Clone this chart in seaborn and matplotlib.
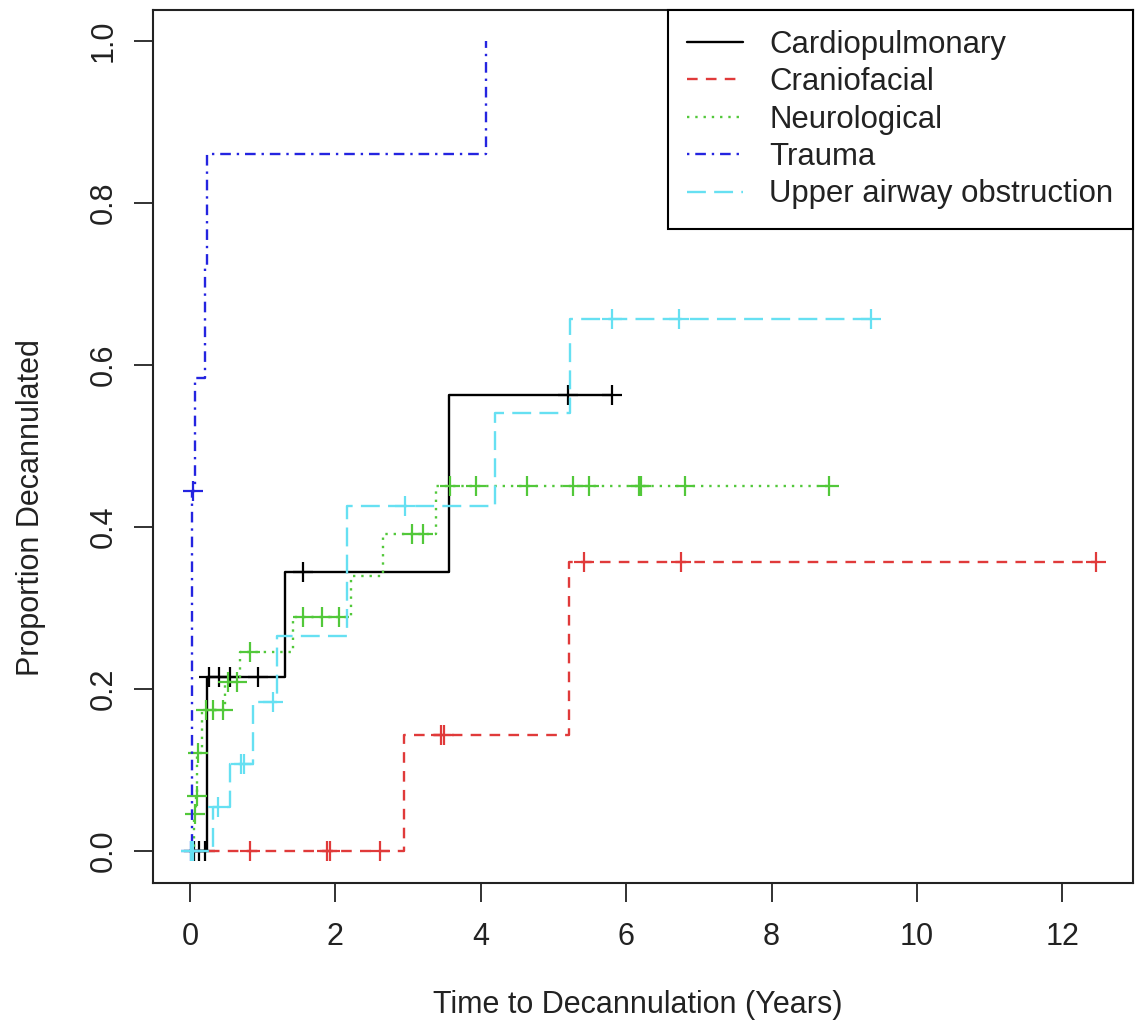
import numpy as np
import matplotlib
matplotlib.use('Agg')
from matplotlib import pyplot as plt
from matplotlib.lines import Line2D
import pandas as pd
import seaborn as sns

# groups, legend order
groups = ['Cardiopulmonary', 'Craniofacial', 'Neurological', 'Trauma',
          'Upper airway obstruction']

# event times (years) and cumulative proportion decannulated after each event
cardio_t = [0.23, 1.31, 3.56]
cardio_y = [0.215, 0.345, 0.563]
cardio_cens = [0.05, 0.12, 0.20, 0.26, 0.40, 0.55, 0.94, 1.55, 5.20, 5.81]

cranio_t = [2.94, 5.21]
cranio_y = [0.143, 0.357]
cranio_cens = [0.83, 1.88, 1.93, 2.61, 3.45, 3.49, 5.42, 6.76, 12.46]

neuro_t = [0.06, 0.08, 0.10, 0.17, 0.48, 0.69, 1.42, 2.21, 2.66, 3.38]
neuro_y = [0.046, 0.068, 0.121, 0.174, 0.209, 0.246, 0.289, 0.339, 0.392, 0.451]
neuro_cens = [0.07, 0.09, 0.11, 0.22, 0.32, 0.45, 0.52, 0.65, 0.83, 1.55,
              1.82, 2.05, 3.05, 3.20, 3.58, 3.94, 4.63, 5.27, 5.49, 6.17,
              6.21, 6.81, 8.79]

trauma_t = [0.03, 0.07, 0.20, 0.23, 4.07]
trauma_y = [0.444, 0.584, 0.722, 0.861, 1.0]
trauma_cens = [0.01, 0.04]

upper_t = [0.32, 0.55, 0.87, 1.20, 2.16, 4.20, 5.23]
upper_y = [0.054, 0.108, 0.184, 0.265, 0.426, 0.541, 0.657]
upper_cens = [0.01, 0.04, 0.39, 0.70, 0.74, 1.14, 2.96, 5.80, 6.73, 9.37]

colors = ['black', '#E03A3A', '#52C83A', '#2424E0', '#66E0F2']
dash_styles = ['-', (0, (4.5, 3.5)), (0, (1, 2.5)), (0, (1, 2.5, 4.5, 2.5)),
               (0, (8, 3.5))]

sns.set_theme(style='white')
plt.rcParams['font.family'] = ['Liberation Sans', 'DejaVu Sans']
plt.rcParams['text.color'] = '#222222'
plt.rcParams['axes.labelcolor'] = '#222222'
plt.rcParams['xtick.color'] = '#222222'
plt.rcParams['ytick.color'] = '#222222'

fig = plt.figure(figsize=(11.35, 10.31), dpi=100)
ax = fig.add_axes([0.1348, 0.1435, 0.8632, 0.8465])

series = [(cardio_t, cardio_y, cardio_cens),
          (cranio_t, cranio_y, cranio_cens),
          (neuro_t, neuro_y, neuro_cens),
          (trauma_t, trauma_y, trauma_cens),
          (upper_t, upper_y, upper_cens)]

handles = []
for name, (ts, ys, cens), col, ls in zip(groups, series, colors, dash_styles):
    t_end = max(max(ts), max(cens))
    curve = pd.DataFrame({'time': [0.0] + list(ts) + [t_end],
                          'prop': [0.0] + list(ys) + [ys[-1]]})
    sns.lineplot(data=curve, x='time', y='prop', ax=ax, color=col,
                 linestyle=ls, linewidth=1.7, drawstyle='steps-post',
                 estimator=None, sort=False)
    # censoring ticks sit on the step curve
    idx = np.searchsorted(ts, cens, side='right') - 1
    cy = np.where(idx >= 0, np.array(ys)[np.clip(idx, 0, None)], 0.0)
    ax.plot(cens, cy, linestyle='none', marker='+', markersize=14,
            markeredgewidth=1.6, color=col)
    handles.append(Line2D([], [], color=col, linestyle=ls, linewidth=1.7))

ax.set_xlim(-0.51, 12.97)
ax.set_ylim(-0.0395, 1.038)
ax.set_xticks([0, 2, 4, 6, 8, 10, 12])
ax.set_yticks([0.0, 0.2, 0.4, 0.6, 0.8, 1.0])
ax.set_yticklabels(['0.0', '0.2', '0.4', '0.6', '0.8', '1.0'],
                   rotation=90, va='center')
ax.tick_params(axis='both', direction='out', length=14, width=1.3,
               labelsize=22, left=True, bottom=True)
ax.tick_params(axis='x', pad=14)
ax.tick_params(axis='y', pad=11)
for sp in ax.spines.values():
    sp.set_color('#222222')
    sp.set_linewidth(1.5)

ax.set_xlabel('Time to Decannulation (Years)', fontsize=22, va='center')
ax.set_ylabel('Proportion Decannulated', fontsize=22, va='center')
ax.xaxis.set_label_coords(0.495, -0.14)
ax.yaxis.set_label_coords(-0.125, 0.43)

leg = ax.legend(handles, groups, loc='upper right', bbox_to_anchor=(1, 1),
                borderaxespad=0, fontsize=22.4, frameon=True, fancybox=False,
                framealpha=1, edgecolor='black', handlelength=1.8,
                handletextpad=0.85, labelspacing=0.24, borderpad=0.62)
leg.get_frame().set_linewidth(1.5)

plt.savefig('out.png', dpi=100)
